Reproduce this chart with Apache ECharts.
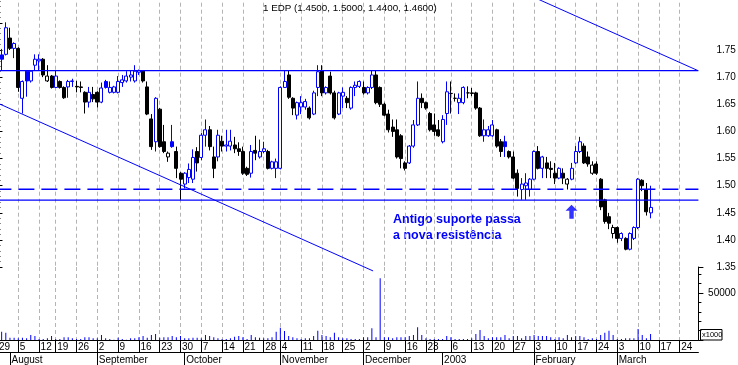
<!DOCTYPE html>
<html><head><meta charset="utf-8">
<script src="https://cdn.jsdelivr.net/npm/echarts@6/dist/echarts.min.js"></script>
<style>html,body{margin:0;padding:0;background:#fff}#c{width:738px;height:365px}</style>
</head><body><div id="c"></div>
<script>
// ---- trading days (categories) ----
const dates = [
 '2002-07-29','2002-07-30','2002-07-31','2002-08-01','2002-08-02',
 '2002-08-05','2002-08-06','2002-08-07','2002-08-08','2002-08-09',
 '2002-08-12','2002-08-13','2002-08-14','2002-08-16',
 '2002-08-19','2002-08-20','2002-08-21','2002-08-22','2002-08-23',
 '2002-08-26','2002-08-27','2002-08-28','2002-08-29','2002-08-30',
 '2002-09-02','2002-09-03','2002-09-04','2002-09-05','2002-09-06',
 '2002-09-09','2002-09-10','2002-09-11','2002-09-12','2002-09-13',
 '2002-09-16','2002-09-17','2002-09-18','2002-09-19','2002-09-20',
 '2002-09-23','2002-09-24','2002-09-25','2002-09-26','2002-09-27',
 '2002-09-30','2002-10-01','2002-10-02','2002-10-03','2002-10-04',
 '2002-10-07','2002-10-08','2002-10-09','2002-10-10','2002-10-11',
 '2002-10-14','2002-10-15','2002-10-16','2002-10-17','2002-10-18',
 '2002-10-21','2002-10-22','2002-10-23','2002-10-24','2002-10-25',
 '2002-10-28','2002-10-29','2002-10-30','2002-10-31',
 '2002-11-04','2002-11-05','2002-11-06','2002-11-07','2002-11-08',
 '2002-11-11','2002-11-12','2002-11-13','2002-11-14','2002-11-15',
 '2002-11-18','2002-11-19','2002-11-20','2002-11-21','2002-11-22',
 '2002-11-25','2002-11-26','2002-11-27','2002-11-28','2002-11-29',
 '2002-12-02','2002-12-03','2002-12-04','2002-12-05','2002-12-06',
 '2002-12-09','2002-12-10','2002-12-11','2002-12-12','2002-12-13',
 '2002-12-16','2002-12-17','2002-12-18','2002-12-19','2002-12-20',
 '2002-12-23','2002-12-27',
 '2002-12-30','2002-12-31','2003-01-02','2003-01-03',
 '2003-01-06','2003-01-07','2003-01-08','2003-01-09','2003-01-10',
 '2003-01-13','2003-01-14','2003-01-15','2003-01-16','2003-01-17',
 '2003-01-20','2003-01-21','2003-01-22','2003-01-23','2003-01-24',
 '2003-01-27','2003-01-28','2003-01-29','2003-01-30','2003-01-31',
 '2003-02-03','2003-02-04','2003-02-05','2003-02-06','2003-02-07',
 '2003-02-10','2003-02-11','2003-02-12','2003-02-13','2003-02-14',
 '2003-02-17','2003-02-18','2003-02-19','2003-02-20','2003-02-21',
 '2003-02-24','2003-02-25','2003-02-26','2003-02-27','2003-02-28',
 '2003-03-03','2003-03-04','2003-03-05','2003-03-06','2003-03-07',
 '2003-03-10','2003-03-11','2003-03-12','2003-03-13','2003-03-14',
 '2003-03-17','2003-03-18','2003-03-19','2003-03-20','2003-03-21',
 '2003-03-24','2003-03-25','2003-03-26','2003-03-27','2003-03-28'
];
// ---- OHLC ----
const open = [
 1.730,1.741,1.742,1.772,1.753, 1.753,1.661,1.711,1.693,1.722, 1.730,1.733,1.693,1.702,
 1.681,1.692,1.681,1.682,1.692, 1.683,1.682,1.672,1.654,1.668, 1.672,1.654,1.692,1.672,1.672,
 1.672,1.690,1.693,1.700,1.693, 1.709,1.711,1.682,1.623,1.581, 1.641,1.581,1.553,1.581,1.563,
 1.523,1.503,1.515,1.512,1.563, 1.552,1.593,1.603,1.553,1.553, 1.582,1.573,1.573,1.575,1.568,
 1.563,1.532,1.523,1.565,1.553, 1.563,1.563,1.532,1.532,
 1.532,1.681,1.704,1.661,1.630, 1.645,1.645,1.643,1.632,1.681, 1.712,1.671,1.702,1.671,1.632,
 1.665,1.661,1.643,1.681,1.683, 1.681,1.671,1.681,1.704,1.681, 1.650,1.632,1.608,1.603,1.592,
 1.542,1.542,1.573,1.612,1.661, 1.653,1.633, 1.612,1.603,1.581,1.633,
 1.670,1.661,1.653,1.653,1.671, 1.671,1.671,1.643,1.592,1.592, 1.592,1.603,1.581,1.581,1.563,
 1.553,1.523,1.493,1.500,1.493, 1.512,1.563,1.532,1.542,1.532, 1.523,1.514,1.523,1.503,1.512,
 1.542,1.563,1.573,1.553,1.523, 1.540,1.512,1.474,1.443,1.412, 1.423,1.403,1.403,1.383,1.403,
 1.423,1.510,1.493,1.450
];
const high = [
 1.740,1.752,1.801,1.791,1.764, 1.755,1.694,1.712,1.713,1.742, 1.742,1.735,1.722,1.704,
 1.712,1.694,1.683,1.695,1.697, 1.693,1.692,1.674,1.682,1.682, 1.674,1.690,1.695,1.692,1.684,
 1.702,1.704,1.711,1.713,1.722, 1.714,1.713,1.692,1.632,1.663, 1.643,1.612,1.563,1.612,1.572,
 1.525,1.525,1.541,1.567,1.571, 1.597,1.622,1.610,1.572,1.603, 1.592,1.603,1.603,1.590,1.580,
 1.572,1.535,1.575,1.592,1.585, 1.581,1.566,1.546,1.550,
 1.683,1.712,1.713,1.663,1.655, 1.665,1.660,1.646,1.675,1.722, 1.722,1.683,1.710,1.675,1.673,
 1.681,1.665,1.683,1.692,1.694, 1.692,1.683,1.713,1.713,1.683, 1.653,1.640,1.622,1.622,1.595,
 1.545,1.575,1.621,1.692,1.670, 1.655,1.636, 1.633,1.621,1.630,1.692,
 1.692,1.670,1.670,1.683,1.683, 1.680,1.673,1.645,1.622,1.610, 1.621,1.605,1.586,1.592,1.565,
 1.563,1.530,1.514,1.523,1.514, 1.565,1.573,1.555,1.553,1.545, 1.542,1.534,1.532,1.514,1.542,
 1.573,1.590,1.578,1.563,1.545, 1.545,1.514,1.476,1.450,1.428, 1.425,1.414,1.405,1.414,1.425,
 1.514,1.512,1.505,1.500
];
const low = [
 1.715,1.713,1.740,1.750,1.735, 1.673,1.633,1.664,1.690,1.713, 1.713,1.700,1.691,1.679,
 1.680,1.679,1.660,1.662,1.682, 1.672,1.672,1.633,1.644,1.654, 1.644,1.652,1.679,1.670,1.670,
 1.670,1.682,1.690,1.692,1.690, 1.704,1.690,1.630,1.566,1.563, 1.570,1.560,1.544,1.570,1.514,
 1.474,1.495,1.505,1.505,1.526, 1.547,1.572,1.565,1.514,1.545, 1.563,1.563,1.565,1.560,1.555,
 1.520,1.518,1.515,1.547,1.550, 1.560,1.530,1.530,1.514,
 1.530,1.680,1.660,1.630,1.622, 1.632,1.640,1.622,1.630,1.665, 1.665,1.668,1.668,1.622,1.630,
 1.643,1.643,1.640,1.665,1.680, 1.668,1.668,1.678,1.650,1.645, 1.628,1.598,1.590,1.550,1.532,
 1.528,1.540,1.570,1.610,1.643, 1.640,1.600, 1.592,1.590,1.578,1.612,
 1.633,1.655,1.632,1.650,1.661, 1.665,1.640,1.590,1.581,1.590, 1.590,1.570,1.553,1.553,1.550,
 1.512,1.480,1.474,1.474,1.480, 1.510,1.530,1.514,1.514,1.514, 1.503,1.512,1.503,1.493,1.510,
 1.540,1.560,1.540,1.535,1.520, 1.520,1.455,1.430,1.420,1.403, 1.395,1.398,1.381,1.381,1.400,
 1.420,1.490,1.445,1.440
];
const close = [
 1.725,1.733,1.791,1.753,1.762, 1.681,1.692,1.693,1.711,1.733, 1.733,1.704,1.702,1.681,
 1.702,1.681,1.662,1.692,1.693, 1.682,1.681,1.654,1.672,1.660, 1.654,1.680,1.681,1.681,1.682,
 1.692,1.695,1.702,1.704,1.711, 1.712,1.693,1.632,1.572,1.661, 1.572,1.563,1.560,1.572,1.532,
 1.512,1.523,1.530,1.552,1.542, 1.593,1.603,1.572,1.532,1.593, 1.573,1.575,1.582,1.568,1.563,
 1.523,1.521,1.563,1.560,1.563, 1.568,1.532,1.544,1.544,
 1.681,1.692,1.663,1.643,1.653, 1.653,1.655,1.625,1.671,1.710, 1.671,1.681,1.671,1.625,1.671,
 1.672,1.653,1.681,1.685,1.692, 1.671,1.681,1.704,1.653,1.650, 1.630,1.603,1.600,1.553,1.550,
 1.532,1.573,1.612,1.661,1.653, 1.643,1.603, 1.600,1.592,1.622,1.673,
 1.670,1.661,1.661,1.681,1.671, 1.670,1.643,1.592,1.603,1.603, 1.612,1.573,1.563,1.572,1.553,
 1.514,1.495,1.503,1.505,1.512, 1.563,1.532,1.553,1.532,1.530, 1.514,1.532,1.514,1.512,1.532,
 1.563,1.581,1.542,1.540,1.538, 1.523,1.461,1.434,1.431,1.423, 1.403,1.412,1.383,1.412,1.423,
 1.512,1.500,1.452,1.460
];
// ---- volume (x1000) ----
const volume = [
 6000,8900,7800,2500,2500, 1800,2500,1800,5300,4300, 1000,1000,1800,4300,
 1000,1000,2800,2800,1800, 1000,1000,2800,2800,1800, 1800,5300,1800,1000,300,
 2500,1000,300,1800,1800, 2800,4300,2500,5300,6400, 2500,2800,2800,4300,2800,
 4300,1800,1800,2500,2500, 1800,5300,4300,2800,1800, 1000,1000,1800,3500,4300,
 2800,1000,5300,2800,2500, 1800,1800,2800,8900,
 13100,9600,4300,2800,1800, 1000,1800,1800,4300,9900, 5300,4300,2800,7800,2800,
 1800,1800,1000,1000,1000, 2800,3000,12400,2800,65600, 2800,2800,1800,2800,2800,
 2800,4300,5300,13500,5300, 1800,1000, 1000,1000,1000,4300,
 2800,1000,1000,1000,1000, 1800,6400,10600,4300,1800, 2800,2800,2800,5300,1800,
 4300,4300,1800,4300,4300, 5300,4300,4300,4300,2800, 1000,2800,1800,5300,2800,
 4300,4300,2800,1000,1800, 1000,5300,7800,9900,5300, 1000,1000,1800,1800,1800,
 11700,5300,1800,6400
];
// ---- drawn levels / trendlines (index, price) ----
const resistance = 1.712;
const dashedLevel = 1.4935;
const support = 1.4735;
const upperTrend = [[128.1, 1.85], [168.4, 1.712]];
const lowerTrend = [[-0.5, 1.654], [90.3, 1.343]];
const arrowAt = [138, 1.452];
const monthNames = ['January','February','March','April','May','June','July','August','September','October','November','December'];
const priceTicks = {min: 1.35, max: 1.85, step: 0.05, labelMin: 1.35, labelMax: 1.75};
const volTicks = {min: 0, max: 77660, step: 50000};

const BLUE = '#0000ff', BLACK = '#000000';
const FONT = '"Liberation Sans", Arial, sans-serif';
const N = dates.length;
const dow = d => new Date(d + 'T00:00:00Z').getUTCDay();
const weekStarts = [];
dates.forEach((d, i) => { if (i === 0 || dow(d) < dow(dates[i - 1])) weekStarts.push(i); });
const weekSet = new Set(weekStarts);
const dayLabelSet = new Set(weekStarts.filter((w, k) => k === 0 || w - weekStarts[k - 1] >= 3));
const monthSet = new Set();
dates.forEach((d, i) => { if (i > 0 && d.slice(5, 7) !== dates[i - 1].slice(5, 7)) monthSet.add(i); });
const monthLabel = i => {
  const d = dates[i];
  if (d.slice(0, 4) !== dates[i - 1].slice(0, 4)) return d.slice(0, 4);
  return monthNames[+d.slice(5, 7) - 1];
};

const candleData = open.map((o, i) => {
  const c = close[i];
  const prev = i > 0 ? close[i - 1] : -Infinity;
  const col = c >= prev ? BLUE : BLACK;
  const fill = c > o ? '#ffffff' : col;
  return {value: [o, c, low[i], high[i]],
    itemStyle: {color: fill, color0: fill, borderColor: col, borderColor0: col, borderColorDoji: col, borderWidth: 1}};
});
const last = open.length - 1;
const titleText = `1 EDP (${open[last].toFixed(4)}, ${high[last].toFixed(4)}, ${low[last].toFixed(4)}, ${close[last].toFixed(4)})`;

const gridDash = {show: true, interval: i => weekSet.has(i), alignWithLabel: true,
  lineStyle: {color: '#b4b4b4', width: 1, type: [4, 3]}};

const chart = echarts.init(document.getElementById('c'), null, {renderer: 'canvas'});
chart.setOption({
  animation: false,
  backgroundColor: '#ffffff',
  title: {text: titleText, left: 263, top: 3, padding: 0,
    textStyle: {fontSize: 9.8, fontWeight: 'normal', color: '#000', fontFamily: FONT}},
  grid: [
    {left: -4.6, right: 39.6, top: -4.3, height: 271.45, outerBoundsMode: 'none', containLabel: false},
    {left: -4.6, right: 39.6, top: 267, height: 73, outerBoundsMode: 'none', containLabel: false}
  ],
  xAxis: [
    {type: 'category', gridIndex: 0, data: dates, boundaryGap: true,
      axisLine: {show: false}, axisTick: {show: false}, axisLabel: {show: false},
      splitLine: gridDash},
    {type: 'category', gridIndex: 1, data: dates, boundaryGap: true, position: 'bottom',
      axisLine: {show: true, lineStyle: {color: '#000', width: 1.2}},
      axisTick: {show: true, interval: i => weekSet.has(i), alignWithLabel: true, length: 12.7,
        lineStyle: {color: '#000', width: 1}},
      axisLabel: {show: true, interval: i => weekSet.has(i), align: 'left', margin: 2,
        padding: [0, 0, 0, 1.5], fontSize: 10, color: '#000', fontFamily: FONT,
        formatter: (v, i) => dayLabelSet.has(i) ? String(+v.slice(8)) : ''},
      splitLine: gridDash},
    {type: 'category', gridIndex: 1, data: dates, boundaryGap: true, position: 'bottom', offset: 12.7,
      axisLine: {show: true, lineStyle: {color: '#000', width: 1}},
      axisTick: {show: true, interval: i => monthSet.has(i), alignWithLabel: true, length: 13,
        lineStyle: {color: '#000', width: 1}},
      axisLabel: {show: true, interval: i => monthSet.has(i), align: 'left', margin: 2.5,
        padding: [0, 0, 0, 1.5], fontSize: 10, color: '#000', fontFamily: FONT,
        formatter: (v, i) => monthSet.has(i) ? monthLabel(i) : ''},
      splitLine: {show: false}},
    {type: 'value', gridIndex: 0, min: -0.5, max: N - 0.5, show: false}
  ],
  yAxis: [
    {type: 'value', gridIndex: 0, position: 'right', min: priceTicks.min, max: priceTicks.max, interval: priceTicks.step,
      axisLine: {show: true, lineStyle: {color: '#000', width: 1}},
      axisTick: {show: true, length: 5, lineStyle: {color: '#000'}},
      minorTick: {show: true, splitNumber: 5, length: 3, lineStyle: {color: '#000'}},
      splitLine: {show: false},
      axisLabel: {show: true, align: 'right', margin: 37.5, fontSize: 10, color: '#000', fontFamily: FONT,
        formatter: v => (v >= priceTicks.labelMin - 1e-6 && v <= priceTicks.labelMax + 1e-6) ? v.toFixed(2) : ''}},
    {type: 'value', gridIndex: 1, position: 'right', min: volTicks.min, max: volTicks.max, interval: volTicks.step,
      axisLine: {show: true, lineStyle: {color: '#000', width: 1}},
      axisTick: {show: true, length: 5, lineStyle: {color: '#000'}},
      minorTick: {show: true, splitNumber: 5, length: 3, lineStyle: {color: '#000'}},
      splitLine: {show: false},
      axisLabel: {show: true, align: 'right', margin: 37.5, fontSize: 10, color: '#000', fontFamily: FONT,
        formatter: v => v === volTicks.step ? String(v) : ''}}
  ],
  series: [
    {type: 'candlestick', xAxisIndex: 0, yAxisIndex: 0, barWidth: 3.5, data: candleData},
    {type: 'bar', xAxisIndex: 1, yAxisIndex: 1, barWidth: 1, data: volume,
      itemStyle: {color: BLUE}},
    {type: 'line', xAxisIndex: 3, yAxisIndex: 0, symbol: 'none', silent: true,
      data: [[-0.5, resistance], [N - 0.5, resistance]], lineStyle: {color: BLUE, width: 1.4}},
    {type: 'line', xAxisIndex: 3, yAxisIndex: 0, symbol: 'none', silent: true,
      data: [[-0.5, dashedLevel], [N - 0.5, dashedLevel]], lineStyle: {color: BLUE, width: 1.4, type: [16, 7]}},
    {type: 'line', xAxisIndex: 3, yAxisIndex: 0, symbol: 'none', silent: true,
      data: [[-0.5, support], [N - 0.5, support]], lineStyle: {color: BLUE, width: 1.4}},
    {type: 'line', xAxisIndex: 3, yAxisIndex: 0, symbol: 'none', silent: true, clip: false,
      data: upperTrend, lineStyle: {color: BLUE, width: 1}},
    {type: 'line', xAxisIndex: 3, yAxisIndex: 0, symbol: 'none', silent: true, clip: false,
      data: lowerTrend, lineStyle: {color: BLUE, width: 1}},
    {type: 'scatter', xAxisIndex: 3, yAxisIndex: 0, silent: true,
      symbol: 'path://M6,0 L12,6 L8.2,6 L8.2,14 L3.8,14 L3.8,6 L0,6 Z', symbolSize: [12, 14],
      itemStyle: {color: BLUE}, data: [arrowAt]}
  ],
  graphic: [
    {type: 'text', left: 393, top: 211.5, silent: true,
      style: {text: 'Antigo suporte passa\na nova resistência', fill: BLUE,
        font: 'bold 12.5px ' + FONT, lineHeight: 16}},
    {type: 'rect', shape: {x: 700.5, y: 329.5, width: 21.5, height: 10.5}, silent: true,
      style: {fill: '#fff', stroke: '#000', lineWidth: 1}},
    {type: 'text', left: 702, top: 331, silent: true,
      style: {text: 'x1000', fill: '#000', font: '7.5px ' + FONT}}
  ]
});
</script>
</body></html>
